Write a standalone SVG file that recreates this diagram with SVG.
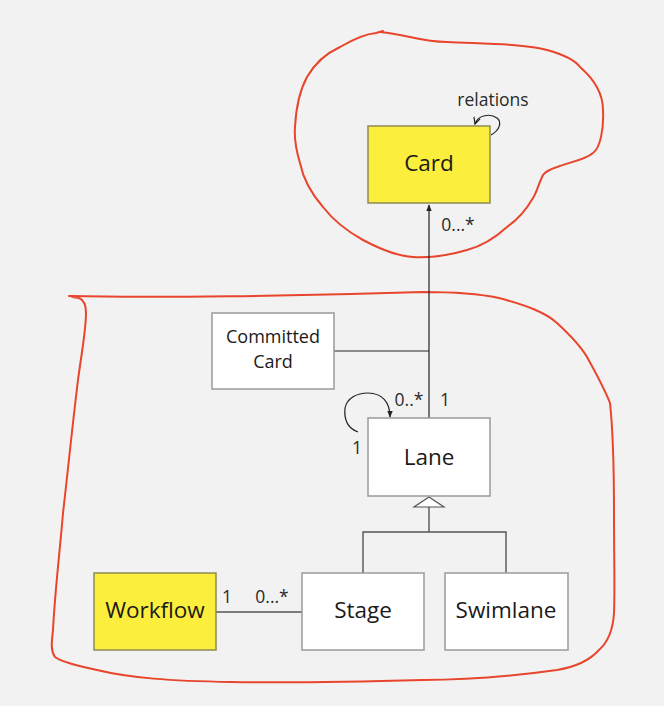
<svg xmlns="http://www.w3.org/2000/svg" width="664" height="706" viewBox="0 0 664 706">
<defs>
<style>
.box{fill:#ffffff;stroke:#9a9a9a;stroke-width:1.5}
.yel{fill:#fbee3c;stroke:#8f8a55;stroke-width:1.5}
.lbl{font-family:"Open Sans","Noto Sans","Liberation Sans",sans-serif;fill:#1a1a1a;text-anchor:middle}
.big{font-size:22.5px}
.mid{font-size:18px}
.sm{font-size:17.5px;fill:#2a2a2a}
.ln{fill:none;stroke:#222;stroke-width:1.2}
.gl{fill:none;stroke:#555;stroke-width:1.4}
.red{fill:none;stroke:#e8452c;stroke-width:2;stroke-linecap:round;stroke-linejoin:round}
</style>
<marker id="arr" viewBox="0 0 10 10" refX="9" refY="5" markerWidth="7" markerHeight="7" orient="auto" markerUnits="userSpaceOnUse">
<path d="M0,1 L10,5 L0,9 z" fill="#222"/>
</marker>
<marker id="open" viewBox="0 0 10 10" refX="9" refY="5" markerWidth="8" markerHeight="8" orient="auto" markerUnits="userSpaceOnUse">
<path d="M1,1 L9,5 L1,9" fill="none" stroke="#222" stroke-width="1.5"/>
</marker>
</defs>
<rect x="0" y="0" width="664" height="706" fill="#f2f2f2"/>

<g id="outlines">
<path class="red" d="M380,32 C410,35 420,42 447,42 C490,44 525,44 547,50 C565,55 575,60 580,67 C595,80 603,95 603,110 C604,130 600,148 593,153 C585,160 570,162 557,167 C548,170 545,172 543,175 C538,185 537,192 533,198 C525,212 517,220 507,227 C495,238 482,246 467,250 C450,255 432,258 413,257 C395,256 378,248 363,240 C345,230 333,220 323,207 C310,192 303,178 300,163 C296,150 294,140 295,127 C296,108 300,90 307,77 C315,63 327,53 340,47 C352,40 365,34 376,33 L383,31"/>
<path class="red" d="M69,296 C150,298 300,296 423,292 C460,292 480,294 499,298 C525,305 545,312 557,323 C570,335 580,345 587,357 C597,375 605,390 610,403 C614,440 614,480 614,513 C614,560 615,590 614,613 C613,630 608,642 599,650 C590,660 575,667 557,670 C500,678 460,680 423,680 C350,682 290,683 231,682 C170,681 130,678 97,670 C75,665 62,662 55,657 C50,650 52,640 53,630 C55,590 60,550 63,513 C68,470 73,420 78,380 C82,350 86,330 86,313 C86,305 84,300 79,298 L72,297"/>
</g>

<g id="connectors">
<line class="ln" x1="429" y1="418" x2="429" y2="205" marker-end="url(#arr)"/>
<line class="ln" x1="334" y1="351" x2="429" y2="351"/>
<path class="ln" d="M491,135 C500,130 502,122 497,118 C490,113 478,115 475,124" marker-end="url(#open)"/>
<path class="ln" d="M358,432 C347,428 344,418 345,408 C347,398 357,393 368,393 C382,393 390,402 390,417" marker-end="url(#arr)"/>
<path class="gl" d="M429,507 L429,532 M363,573 L363,532 L506,532 L506,573"/>
<path d="M429,497 L444,507 L414,507 Z" fill="#ffffff" stroke="#555" stroke-width="1.2"/>
<line class="gl" x1="216" y1="612" x2="302" y2="612" stroke="#777"/>
<text class="lbl sm" x="493" y="106">relations</text>
<text class="lbl sm" x="458" y="231">0...*</text>
<text class="lbl sm" x="445" y="406">1</text>
<text class="lbl sm" x="409" y="406">0..*</text>
<text class="lbl sm" x="357" y="454">1</text>
<text class="lbl sm" x="227" y="603">1</text>
<text class="lbl sm" x="272" y="603">0...*</text>
</g>

<g id="card">
<rect class="yel" x="368" y="126" width="122" height="77"/>
<text class="lbl big" x="429" y="171">Card</text>
</g>
<g id="committed-card">
<rect class="box" x="212" y="313" width="122" height="76"/>
<text class="lbl mid" x="273" y="343">Committed</text>
<text class="lbl mid" x="273" y="368">Card</text>
</g>
<g id="lane">
<rect class="box" x="368" y="418" width="122" height="78"/>
<text class="lbl big" x="429" y="465">Lane</text>
</g>
<g id="workflow">
<rect class="yel" x="94" y="573" width="122" height="77"/>
<text class="lbl big" x="155" y="618">Workflow</text>
</g>
<g id="stage">
<rect class="box" x="302" y="573" width="122" height="77"/>
<text class="lbl big" x="363" y="618">Stage</text>
</g>
<g id="swimlane">
<rect class="box" x="445" y="573" width="123" height="77"/>
<text class="lbl big" x="506" y="618">Swimlane</text>
</g>
</svg>
